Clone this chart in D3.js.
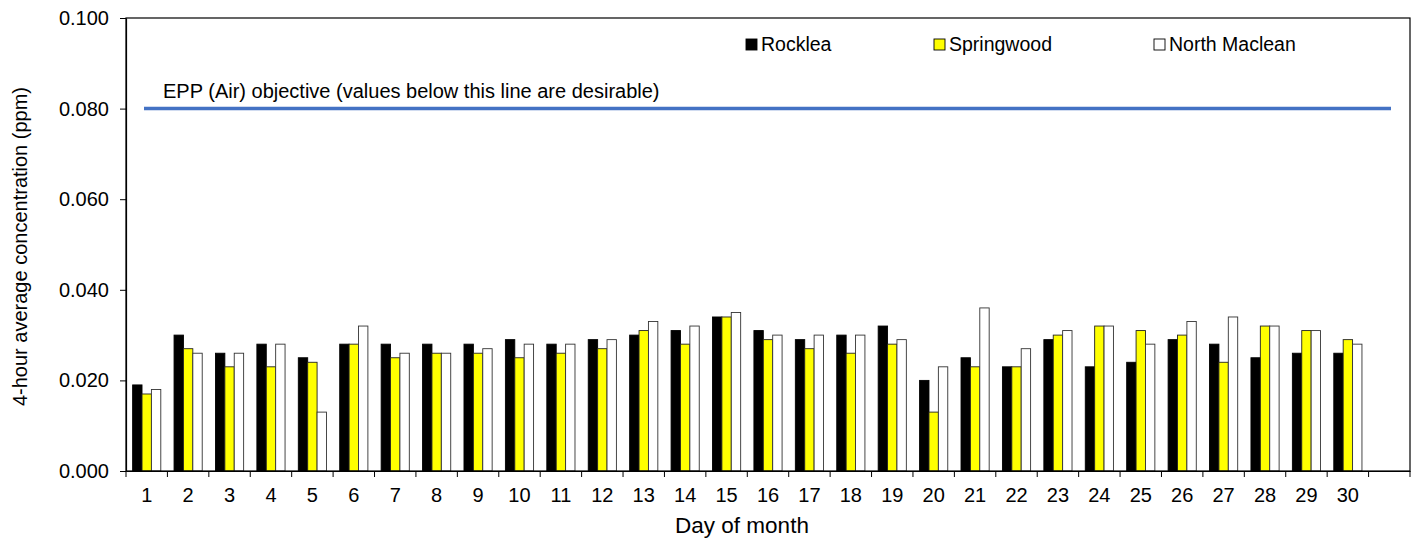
<!DOCTYPE html>
<html><head><meta charset="utf-8">
<script src="https://cdn.jsdelivr.net/npm/d3@7"></script>
<style>
html,body{margin:0;padding:0;background:#fff;}
svg{display:block;font-family:"Liberation Sans",Arial,sans-serif;}
</style></head>
<body>
<svg id="chart" width="1416" height="542"></svg>
<script>
const days = ["1","2","3","4","5","6","7","8","9","10","11","12","13","14","15","16","17","18","19","20","21","22","23","24","25","26","27","28","29","30",""];
const seriesNames = ["Rocklea","Springwood","North Maclean"];
const rocklea     = [0.019,0.030,0.026,0.028,0.025,0.028,0.028,0.028,0.028,0.029,0.028,0.029,0.030,0.031,0.034,0.031,0.029,0.030,0.032,0.020,0.025,0.023,0.029,0.023,0.024,0.029,0.028,0.025,0.026,0.026];
const springwood  = [0.017,0.027,0.023,0.023,0.024,0.028,0.025,0.026,0.026,0.025,0.026,0.027,0.031,0.028,0.034,0.029,0.027,0.026,0.028,0.013,0.023,0.023,0.030,0.032,0.031,0.030,0.024,0.032,0.031,0.029];
const northMaclean= [0.018,0.026,0.026,0.028,0.013,0.032,0.026,0.026,0.027,0.028,0.028,0.029,0.033,0.032,0.035,0.030,0.030,0.030,0.029,0.023,0.036,0.027,0.031,0.032,0.028,0.033,0.034,0.032,0.031,0.028];
const yTicks = [0,0.02,0.04,0.06,0.08,0.1];
const objective = 0.08;
const objectiveLabel = "EPP (Air) objective (values below this line are desirable)";
const xTitle = "Day of month";
const yTitle = "4-hour average concentration (ppm)";

const colors = ["#000000","#ffff00","#ffffff"];
const seriesData = [rocklea, springwood, northMaclean];

const svg = d3.select("#chart");
const m = {left:126, right:1410, top:18, bottom:471};
const FONT = "Liberation Sans, Arial, sans-serif";

const x = d3.scaleBand().domain(days).range([m.left, m.right]).paddingInner(0).paddingOuter(0);
const y = d3.scaleLinear().domain([0,0.1]).range([m.bottom, m.top]);
const groupW = x.bandwidth()*0.68;
const xs = d3.scaleBand().domain(d3.range(3)).range([0, groupW]);

// bars
const rows = days.slice(0,30).map((d,i)=>({day:d, vals:seriesData.map(s=>s[i])}));
const g = svg.append("g");
rows.forEach(r=>{
  const x0 = x(r.day) + (x.bandwidth()-groupW)/2;
  r.vals.forEach((v,k)=>{
    g.append("rect")
      .attr("x", x0 + xs(k))
      .attr("y", y(v))
      .attr("width", xs.bandwidth())
      .attr("height", y(0)-y(v))
      .attr("fill", colors[k])
      .attr("stroke", k===0 ? "#000" : (k===1 ? "#222" : "#333"))
      .attr("stroke-width", 0.9);
  });
});

// frame
svg.append("rect").attr("x",m.left).attr("y",m.top).attr("width",m.right-m.left).attr("height",m.bottom-m.top)
  .attr("fill","none").attr("stroke","#000").attr("stroke-width",1.2);

// objective line
svg.append("line").attr("x1", 144).attr("x2", 1391)
  .attr("y1", y(objective)).attr("y2", y(objective))
  .attr("stroke","#4472c4").attr("stroke-width",3.5);
svg.append("text").attr("x", 163).attr("y", y(objective)-11).attr("font-size",20).attr("fill","#000").text(objectiveLabel);

// y axis
const ya = svg.append("g").attr("transform",`translate(${m.left},0)`)
  .call(d3.axisLeft(y).tickValues(yTicks).tickFormat(d3.format(".3f")).tickSize(6).tickSizeOuter(0).tickPadding(11));
ya.select(".domain").attr("stroke","#000").attr("stroke-width",1.2);
ya.selectAll("line").attr("stroke","#000");
ya.selectAll("text").attr("font-size",20).attr("fill","#000").attr("font-family",FONT);

// x axis labels
const xa = svg.append("g").attr("transform",`translate(0,${m.bottom})`)
  .call(d3.axisBottom(x).tickSize(0).tickPadding(17).tickSizeOuter(0));
xa.select(".domain").attr("stroke","#000").attr("stroke-width",1.2);
xa.selectAll("text").attr("font-size",20).attr("fill","#000").attr("font-family",FONT);
// tick marks at category boundaries
svg.append("g").selectAll("line").data(days).join("line")
  .attr("x1",d=>x(d)).attr("x2",d=>x(d)).attr("y1",m.bottom).attr("y2",m.bottom+6)
  .attr("stroke","#000").attr("stroke-width",1);
svg.append("line").attr("x1",m.right).attr("x2",m.right).attr("y1",m.bottom).attr("y2",m.bottom+6).attr("stroke","#000");

// titles
svg.append("text").attr("x",742).attr("y",533).attr("text-anchor","middle").attr("font-size",22.5).attr("fill","#000").text(xTitle);
svg.append("text").attr("transform",`translate(27,${(m.top+m.bottom)/2+2}) rotate(-90)`).attr("text-anchor","middle").attr("font-size",20).attr("fill","#000").text(yTitle);

// legend
const legX = [746, 934, 1154];
seriesNames.forEach((n,k)=>{
  svg.append("rect").attr("x",legX[k]).attr("y",39).attr("width",11).attr("height",11)
    .attr("fill",colors[k]).attr("stroke","#000").attr("stroke-width",0.9);
  svg.append("text").attr("x",legX[k]+15).attr("y",51).attr("font-size",19.5).attr("fill","#000").text(n);
});
</script>
</body></html>
